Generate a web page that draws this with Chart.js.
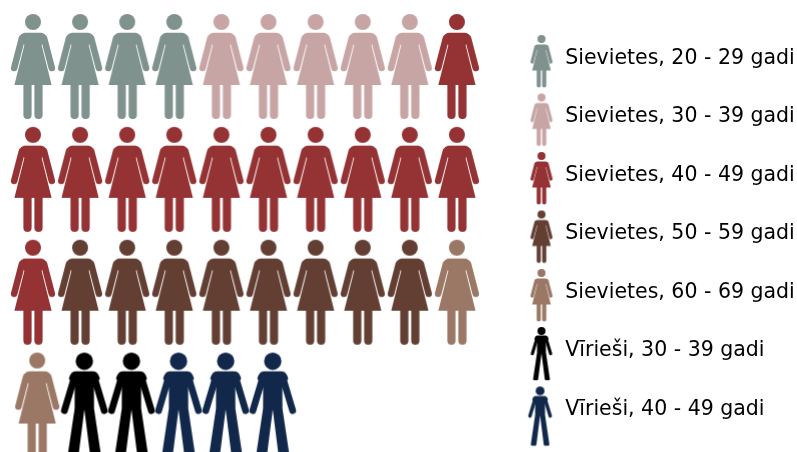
<!DOCTYPE html>
<html><head><meta charset="utf-8">
<style>html,body{margin:0;padding:0;background:#fff;overflow:hidden}canvas{display:block}</style>
<script src="https://cdn.jsdelivr.net/npm/chart.js@4/dist/chart.umd.min.js"></script>
</head><body><canvas id="c" width="797" height="452"></canvas>
<script>
const categories = ["Sievietes, 20 - 29 gadi","Sievietes, 30 - 39 gadi","Sievietes, 40 - 49 gadi","Sievietes, 50 - 59 gadi","Sievietes, 60 - 69 gadi","Vīrieši, 30 - 39 gadi","Vīrieši, 40 - 49 gadi"];
const counts = [4,5,12,8,2,2,3];
const figures = ["woman","woman","woman","woman","woman","man","man"];
const colors = ["#7f928e","#c8a5a5","#943234","#633f33","#9b7865","#000000","#12284b"];
const perRow = 10;
const lastRowShift = 0.09;
const legendScale = [0.5,0.5,0.5,0.5,0.5,0.46,0.51];
const legendDx = [0,0,0,0,0,0,-1.4];
const legendDy = [3,3,3,3,3,3,7];

function drawWoman(g){
  g.beginPath();g.arc(0,8,8,0,Math.PI*2);g.fill();
  g.beginPath();
  g.moveTo(-14,25);g.quadraticCurveTo(-12.5,18.8,-8,18.8);g.lineTo(8,18.8);g.quadraticCurveTo(12.5,18.8,14,25);
  g.lineTo(8.6,31);g.lineTo(18.6,71);g.lineTo(9.6,71);g.lineTo(9.6,101.2);
  g.arc(5.5,101,4.1,0,Math.PI);g.lineTo(1.4,71);g.lineTo(-1.4,71);g.lineTo(-1.4,101.2);
  g.arc(-5.5,101,4.1,0,Math.PI);g.lineTo(-9.6,71);g.lineTo(-18.6,71);g.lineTo(-8.6,31);
  g.closePath();g.fill();
  g.lineWidth=6.6;g.lineCap="round";
  [-1,1].forEach(s=>{g.beginPath();g.moveTo(s*11,24);g.lineTo(s*18.8,54);g.stroke();});
}
function drawMan(g){
  g.beginPath();g.arc(0,8.7,8.7,0,Math.PI*2);g.fill();
  g.beginPath();
  g.moveTo(-15.5,26);g.quadraticCurveTo(-13.5,18.7,-9,18.7);g.lineTo(9,18.7);g.quadraticCurveTo(13.5,18.7,15.5,26);
  g.lineTo(9.6,35);g.lineTo(9.7,56);g.lineTo(18.2,113);g.quadraticCurveTo(18.4,116,15,116);g.lineTo(10,116);g.quadraticCurveTo(7.4,116,7.1,113);
  g.lineTo(0,57);g.lineTo(-7.1,113);g.quadraticCurveTo(-7.4,116,-10,116);g.lineTo(-15,116);g.quadraticCurveTo(-18.4,116,-18.2,113);
  g.lineTo(-9.7,56);g.lineTo(-9.6,35);
  g.closePath();g.fill();
  g.lineWidth=6.8;g.lineCap="round";
  [-1,1].forEach(s=>{g.beginPath();g.moveTo(s*10.6,27);g.lineTo(s*19.9,58);g.stroke();});
}
function icon(kind,color,scale,w,h,dx,dy){
  const c=document.createElement("canvas");c.width=w;c.height=h;
  const g=c.getContext("2d");
  g.fillStyle=color;g.strokeStyle=color;
  g.translate(w/2+dx,dy);g.scale(scale,scale);
  (kind==="man"?drawMan:drawWoman)(g);
  return c;
}
const ICON_H=124, HEAD_TOP=2;
const bigIcons=categories.map((_,i)=>icon(figures[i],colors[i],1,60,ICON_H,0,HEAD_TOP));
const smallIcons=categories.map((_,i)=>{
  const h=Math.ceil((figures[i]==="man"?116:105)*legendScale[i]);
  return icon(figures[i],colors[i],legendScale[i],30,h+2*Math.abs(legendDy[i])+2,legendDx[i],1+legendDy[i]*2);
});

let n=0;
const datasets=categories.map((name,i)=>{
  const pts=[];
  for(let k=0;k<counts[i];k++,n++){
    const row=Math.floor(n/perRow),col=n%perRow;
    pts.push({x:col+(row===3?lastRowShift:0),y:row});
  }
  return {label:name,data:pts,pointStyle:bigIcons[i],pointRadius:30,hoverRadius:30,showLine:false,clip:false,
    backgroundColor:colors[i],borderColor:colors[i]};
});

const COL_W=47.1,ROW_H=112.85,FIRST_X=33,FIRST_Y=74;
const moveLegend={id:"moveLegend",afterLayout(chart){
  const l=chart.legend,p=l.options.labels.padding;
  const w=l.right-l.left;
  l.left=528-p;l.right=l.left+w;
  l.top+=8;l.bottom+=8;
}};
new Chart(document.getElementById("c"),{
  type:"scatter",
  data:{datasets},
  plugins:[moveLegend],
  options:{
    responsive:false,animation:false,
    layout:{padding:0,autoPadding:false},
    scales:{
      x:{display:false,type:"linear",bounds:"data",afterDataLimits(s){s.min=-FIRST_X/COL_W;s.max=s.min+s.width/COL_W;}},
      y:{display:false,type:"linear",reverse:true,min:-FIRST_Y/ROW_H,max:(452-FIRST_Y)/ROW_H}
    },
    plugins:{
      tooltip:{enabled:false},
      title:{display:false},
      legend:{
        display:true,position:"right",align:"center",
        labels:{
          usePointStyle:true,pointStyleWidth:27,color:"#000",padding:38,
          font:{family:"'DejaVu Sans'",size:20.5},
          generateLabels(){return categories.map((t,i)=>({text:t,pointStyle:smallIcons[i],fillStyle:colors[i],strokeStyle:colors[i],lineWidth:0,hidden:false,datasetIndex:i,fontColor:"#000"}));}
        }
      }
    }
  }
});
</script></body></html>
